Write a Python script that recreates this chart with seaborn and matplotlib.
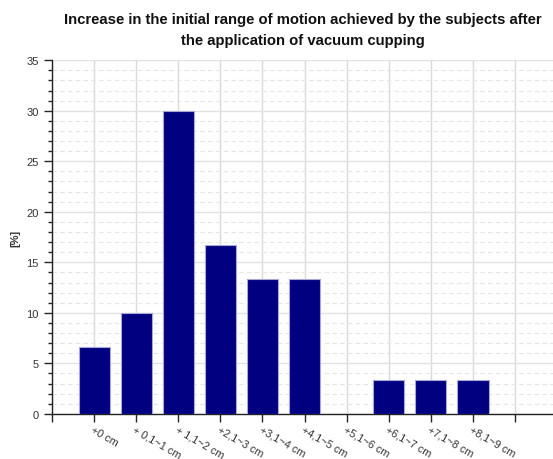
import matplotlib
matplotlib.use("Agg")
import matplotlib.pyplot as plt
import seaborn as sns
import pandas as pd
from matplotlib.ticker import MultipleLocator

categories = ["+0 cm", "+ 0,1~1 cm", "+ 1,1~2 cm", "+2,1~3 cm", "+3,1~4 cm",
              "+4,1~5 cm", "+5,1~6 cm", "+6,1~7 cm", "+7,1~8 cm", "+8,1~9 cm"]
values = [6.67, 10.0, 30.0, 16.67, 13.33, 13.33, 0.0, 3.33, 3.33, 3.33]
title = "Increase in the initial range of motion achieved by the subjects after\nthe application of vacuum cupping"
ylabel = "[%]"

sns.set_style("white")
plt.rcParams['font.family'] = ['Liberation Sans', 'DejaVu Sans']

df = pd.DataFrame({"cat": categories, "val": values})

fig = plt.figure(figsize=(5.53, 4.6), dpi=100)
ax = fig.add_axes([0.094, 0.098, 0.906, 0.769])

sns.barplot(data=df, x="cat", y="val", order=categories, ax=ax,
            color="#000080", saturation=1, width=0.74,
            edgecolor="#a8a8d8", linewidth=0.8, zorder=3)

ax.set_xlim(-1, 10.9)
ax.set_ylim(0, 35)
ax.set_xticks(range(-1, 11))
ax.set_xticklabels([""] + categories + [""])
for lbl in ax.get_xticklabels():
    lbl.set_rotation(-30)
    lbl.set_ha("left")
    lbl.set_va("top")
    lbl.set_rotation_mode("anchor")
    lbl.set_fontsize(7.8)
    lbl.set_color("#333333")

ax.yaxis.set_major_locator(MultipleLocator(5))
ax.yaxis.set_minor_locator(MultipleLocator(1))
ax.tick_params(axis="y", which="major", length=6, width=1, labelsize=8,
               labelcolor="#333333", direction="out", left=True)
ax.tick_params(axis="y", which="minor", length=3, width=1, direction="out", left=True)
ax.tick_params(axis="x", which="major", length=6, width=1, direction="out", bottom=True, pad=1)

ax.grid(axis="y", which="major", color="#e2e2e2", linewidth=1, linestyle="-", zorder=0)
ax.grid(axis="y", which="minor", color="#e6e6e6", linewidth=0.8, linestyle=(0, (4, 3)), zorder=0)
ax.grid(axis="x", which="major", color="#dadada", linewidth=1, linestyle="-", zorder=0)
ax.set_axisbelow(True)

for s in ["top", "right"]:
    ax.spines[s].set_visible(False)
for s in ["left", "bottom"]:
    ax.spines[s].set_color("#222222")
    ax.spines[s].set_linewidth(1)

ax.set_xlabel("")
ax.set_ylabel(ylabel, fontsize=8, fontweight="bold", color="#333333", labelpad=4)
ax.set_title(title, fontsize=10.7, fontweight="bold", pad=12, linespacing=1.6, color="#111111")

fig.savefig("out.png", dpi=100)
